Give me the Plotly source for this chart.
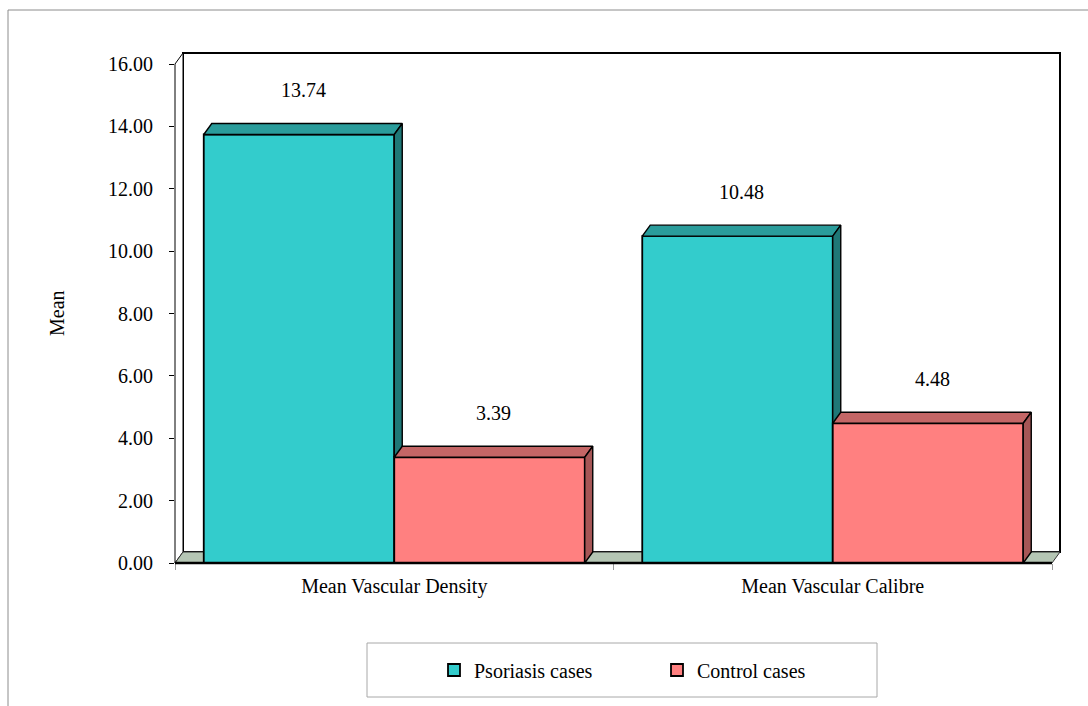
import plotly.graph_objects as go

# ---- data ----
categories = ["Mean Vascular Density", "Mean Vascular Calibre"]
psoriasis = [13.74, 10.48]
control = [3.39, 4.48]
series_names = ["Psoriasis cases", "Control cases"]
y_ticks = [0, 2, 4, 6, 8, 10, 12, 14, 16]

# ---- styling / geometry ----
FONT = "Liberation Serif"
FS = 20
W, H = 1088, 706
PL, PR, PT, PB = 175, 1060, 53, 563          # plot area in pixels
FRONT_PX = 877                                # width of the front plane
KX = FRONT_PX / len(categories)               # px per category unit
KY = 499 / 16                                 # px per value unit
DDX = 8 / KX                                  # depth offset in data units
DDY = 11 / KY
XMAX = len(categories) + DDX
YMAX = 16 + DDY
BAR_W = 190.5 / KX

front_cols = ["#33CCCC", "#FF8080"]
top_cols = ["#2A9C9B", "#C46666"]
side_cols = ["#1F7877", "#A65656"]
floor_col = "#B5C6B4"

centers = [i + 0.5 for i in range(len(categories))]


def dx(v):
    return v / XMAX


def dy(v):
    return v / YMAX


def px_x(p):
    return (p - PL) / (PR - PL)


def px_y(p):
    return (PB - p) / (PB - PT)


fig = go.Figure()

# front faces of the bars
fig.add_trace(go.Bar(
    x=centers, y=psoriasis, name=series_names[0], offset=-BAR_W, width=BAR_W,
    marker=dict(color=front_cols[0], line=dict(color="black", width=1.8)),
    hoverinfo="skip"))
fig.add_trace(go.Bar(
    x=centers, y=control, name=series_names[1], offset=0, width=BAR_W,
    marker=dict(color=front_cols[1], line=dict(color="black", width=1.8)),
    hoverinfo="skip"))


def face(xs, ys, color):
    fig.add_trace(go.Scatter(
        x=xs + [xs[0]], y=ys + [ys[0]], mode="lines", fill="toself",
        fillcolor=color, line=dict(color="black", width=1.4),
        showlegend=False, hoverinfo="skip"))


# top and side faces; the rear bar's side is trimmed where the front bar covers it
for c, pv, cv in zip(centers, psoriasis, control):
    x0, x1, x2 = c - BAR_W, c, c + BAR_W
    face([x0, x1, x1 + DDX, x0 + DDX], [pv, pv, pv + DDY, pv + DDY], top_cols[0])
    face([x1, x1, x1 + DDX, x1 + DDX], [cv, pv, pv + DDY, cv], side_cols[0])
    face([x1, x2, x2 + DDX, x1 + DDX], [cv, cv, cv + DDY, cv + DDY], top_cols[1])
    face([x2, x2, x2 + DDX, x2 + DDX], [0, cv, cv + DDY, DDY], side_cols[1])

# value labels
annotations = []
for vals in (psoriasis, control):
    offs = -BAR_W / 2 if vals is psoriasis else BAR_W / 2
    for c, v in zip(centers, vals):
        annotations.append(dict(
            x=c + offs + DDX / 2, y=v, text=f"{v:.2f}", showarrow=False,
            yshift=44, font=dict(family=FONT, size=FS, color="black")))

annotations.append(dict(
    xref="paper", yref="paper", x=px_x(57), y=px_y(313), text="Mean",
    xanchor="center", yanchor="middle",
    textangle=-90, showarrow=False, font=dict(family=FONT, size=FS, color="black")))

n = len(categories)
shapes = [
    # outer chart border
    dict(type="rect", xref="paper", yref="paper", x0=px_x(8), y0=px_y(10),
         x1=px_x(1100), y1=px_y(720), line=dict(color="#8C8C8C", width=1),
         fillcolor="white", layer="below"),
    # legend frame
    dict(type="rect", xref="paper", yref="paper", x0=px_x(367), y0=px_y(643),
         x1=px_x(877), y1=px_y(697), line=dict(color="#A8A8A8", width=1),
         layer="below"),
    # back wall
    dict(type="rect", xref="x domain", yref="y domain", x0=dx(DDX), y0=dy(DDY),
         x1=1, y1=1, line=dict(color="black", width=2), fillcolor="white",
         layer="below"),
    # left wall
    dict(type="path", xref="x domain", yref="y domain",
         path=f"M 0 0 L 0 {dy(16)} L {dx(DDX)} 1 L {dx(DDX)} {dy(DDY)} Z",
         line=dict(color="black", width=1), fillcolor="white", layer="below"),
    # floor
    dict(type="path", xref="x domain", yref="y domain",
         path=f"M 0 0 L {dx(n)} 0 L 1 {dy(DDY)} L {dx(DDX)} {dy(DDY)} Z",
         line=dict(color="#333333", width=1), fillcolor=floor_col, layer="below"),
    # front edge of the floor
    dict(type="line", xref="x domain", yref="y domain", x0=0, y0=0,
         x1=dx(n), y1=0, line=dict(color="black", width=2.5), layer="above"),
]

fig.update_layout(
    width=W, height=H,
    margin=dict(l=PL, r=W - PR, t=PT, b=H - PB, pad=0),
    font=dict(family=FONT, size=FS, color="black"),
    paper_bgcolor="white", plot_bgcolor="rgba(0,0,0,0)",
    barmode="overlay",
    showlegend=True,
    legend=dict(orientation="h", x=px_x(434), y=px_y(670), xanchor="left",
                yanchor="middle", bgcolor="rgba(0,0,0,0)", borderwidth=0,
                entrywidth=178, font=dict(family=FONT, size=FS, color="black"),
                traceorder="normal"),
    xaxis=dict(range=[0, XMAX], tickmode="array", tickvals=centers,
               ticktext=categories, ticks="", showgrid=False, zeroline=False,
               showline=False, ticklabelstandoff=9,
               tickfont=dict(family=FONT, size=FS, color="black"),
               minor=dict(tickmode="array", tickvals=list(range(n + 1)),
                          ticks="outside", ticklen=6, tickcolor="#9A9A9A",
                          tickwidth=1, showgrid=False)),
    yaxis=dict(range=[0, YMAX], tickmode="array", tickvals=y_ticks,
               ticktext=[f"{v:.2f}" for v in y_ticks], ticks="outside",
               ticklen=5, tickcolor="black", tickwidth=1, showgrid=False,
               zeroline=False, showline=False, ticklabelstandoff=12,
               tickfont=dict(family=FONT, size=FS, color="black")),
    annotations=annotations,
    shapes=shapes,
)

fig.write_html("out.html")
